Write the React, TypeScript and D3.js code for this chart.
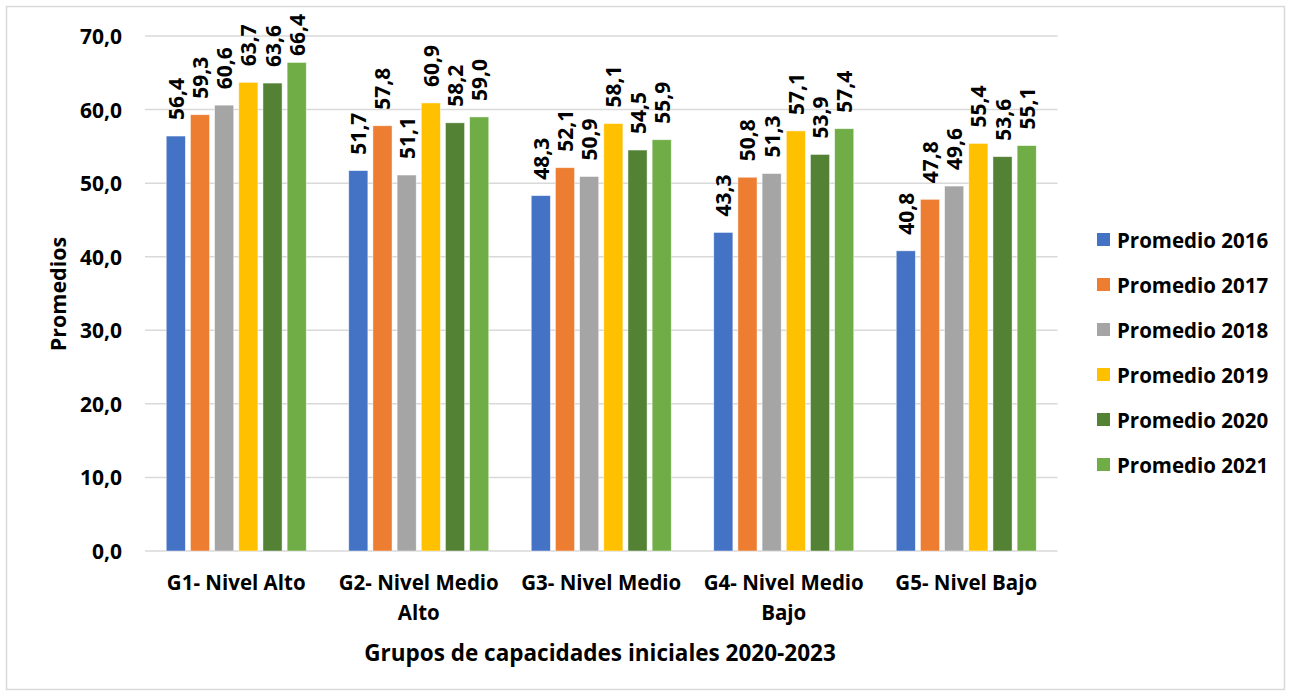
import React, { useEffect, useRef } from "react";
import * as d3 from "d3";

const categories = [
  "G1- Nivel Alto",
  "G2- Nivel Medio Alto",
  "G3- Nivel Medio",
  "G4- Nivel Medio Bajo",
  "G5- Nivel Bajo",
];
const seriesNames = [
  "Promedio 2016",
  "Promedio 2017",
  "Promedio 2018",
  "Promedio 2019",
  "Promedio 2020",
  "Promedio 2021",
];
const promedio2016 = [56.4, 51.7, 48.3, 43.3, 40.8];
const promedio2017 = [59.3, 57.8, 52.1, 50.8, 47.8];
const promedio2018 = [60.6, 51.1, 50.9, 51.3, 49.6];
const promedio2019 = [63.7, 60.9, 58.1, 57.1, 55.4];
const promedio2020 = [63.6, 58.2, 54.5, 53.9, 53.6];
const promedio2021 = [66.4, 59.0, 55.9, 57.4, 55.1];
const seriesValues = [promedio2016, promedio2017, promedio2018, promedio2019, promedio2020, promedio2021];
const colors = ["#4472C4", "#ED7D31", "#A5A5A5", "#FFC000", "#548235", "#70AD47"];
const yTicks = [0, 10, 20, 30, 40, 50, 60, 70];
const yTitle = "Promedios";
const xTitle = "Grupos de capacidades iniciales 2020-2023";

const W = 1291;
const H = 696;
const FONT = "'Open Sans', sans-serif";

export default function App() {
  const ref = useRef<SVGSVGElement>(null);

  useEffect(() => {
    const svg = d3.select(ref.current);
    svg.selectAll("*").remove();

    svg.append("rect").attr("x", 0).attr("y", 0).attr("width", W).attr("height", H).attr("fill", "#fff");
    svg.append("rect").attr("x", 6.5).attr("y", 6.5).attr("width", 1278).attr("height", 683)
      .attr("fill", "none").attr("stroke", "#d9d9d9").attr("stroke-width", 1.5);

    const left = 145, right = 1057.5, top = 36, bottom = 551;
    const x0 = d3.scaleBand<string>().domain(categories).range([left, right]).paddingInner(0).paddingOuter(0);
    const y = d3.scaleLinear().domain([0, 70]).range([bottom, top]);
    const groupSpan = 140;
    const x1 = d3.scaleBand<string>().domain(seriesNames).range([0, groupSpan]).paddingInner(0.21).paddingOuter(0);

    // gridlines
    svg.append("g").selectAll("line").data(yTicks).join("line")
      .attr("x1", left).attr("x2", right)
      .attr("y1", (d) => y(d)).attr("y2", (d) => y(d))
      .attr("stroke", "#d9d9d9").attr("stroke-width", 1.5);

    // y tick labels
    svg.append("g").selectAll("text").data(yTicks).join("text")
      .attr("x", 122).attr("y", (d) => y(d))
      .attr("text-anchor", "end").attr("dominant-baseline", "central")
      .attr("font-family", FONT).attr("font-weight", "bold").attr("font-size", 21)
      .attr("fill", "#000")
      .text((d) => d3.format(".1f")(d).replace(".", ","));

    // bars
    const groups = svg.append("g").selectAll("g").data(categories).join("g")
      .attr("transform", (d) => `translate(${(x0(d) as number) + (x0.bandwidth() - groupSpan) / 2},0)`);

    seriesNames.forEach((s, si) => {
      groups.append("rect")
        .attr("x", x1(s) as number)
        .attr("y", (_d, i) => y(seriesValues[si][i]))
        .attr("width", x1.bandwidth())
        .attr("height", (_d, i) => bottom - y(seriesValues[si][i]))
        .attr("fill", colors[si])
        .attr("stroke", "#ffffff").attr("stroke-opacity", 0.6).attr("stroke-width", 0.75);
    });

    // data labels
    seriesNames.forEach((s, si) => {
      groups.each(function (_d, i) {
        const g = d3.select(this);
        const v = seriesValues[si][i];
        const cx = (x1(s) as number) + x1.bandwidth() / 2;
        const t = g.append("text")
          .attr("font-family", FONT).attr("font-weight", "bold").attr("font-size", 21)
          .attr("fill", "#000").attr("dominant-baseline", "central")
          .text(d3.format(".1f")(v).replace(".", ","));
        const len = (t.node() as SVGTextElement).getComputedTextLength();
        let start = y(v) - 16;
        if (start - len < 14) start = 14 + len;
        t.attr("transform", `translate(${cx},${start}) rotate(-90)`);
      });
    });

    // x labels with wrap
    const maxW = 172;
    categories.forEach((c) => {
      const cx = (x0(c) as number) + x0.bandwidth() / 2;
      const t = svg.append("text")
        .attr("font-family", FONT).attr("font-weight", "bold").attr("font-size", 20.5)
        .attr("text-anchor", "middle").attr("fill", "#000");
      const words = c.split(" ");
      let line: string[] = [];
      let lineNo = 0;
      let tspan = t.append("tspan").attr("x", cx).attr("y", 582).attr("dominant-baseline", "central");
      words.forEach((w) => {
        line.push(w);
        tspan.text(line.join(" "));
        if ((tspan.node() as SVGTSpanElement).getComputedTextLength() > maxW && line.length > 1) {
          line.pop();
          tspan.text(line.join(" "));
          line = [w];
          lineNo++;
          tspan = t.append("tspan").attr("x", cx).attr("y", 582 + lineNo * 30)
            .attr("dominant-baseline", "central").text(w);
        }
      });
    });

    // axis titles
    svg.append("text")
      .attr("x", 600).attr("y", 652)
      .attr("text-anchor", "middle").attr("dominant-baseline", "central")
      .attr("font-family", FONT).attr("font-weight", "bold").attr("font-size", 22.5)
      .text(xTitle);
    svg.append("text")
      .attr("transform", `translate(57,294) rotate(-90)`)
      .attr("text-anchor", "middle").attr("dominant-baseline", "central")
      .attr("font-family", FONT).attr("font-weight", "bold").attr("font-size", 21.5)
      .text(yTitle);

    // legend
    const lg = svg.append("g").selectAll("g").data(seriesNames).join("g")
      .attr("transform", (_d, i) => `translate(1097,${240 + i * 45})`);
    lg.append("rect").attr("x", 0).attr("y", -7).attr("width", 13).attr("height", 13)
      .attr("fill", (_d, i) => colors[i]);
    lg.append("text").attr("x", 20).attr("y", 0).attr("dominant-baseline", "central")
      .attr("font-family", FONT).attr("font-weight", "bold").attr("font-size", 20.5)
      .text((d) => d);
  }, []);

  return (
    <svg ref={ref} width={W} height={H} style={{ position: "absolute", left: 0, top: 0 }} />
  );
}
